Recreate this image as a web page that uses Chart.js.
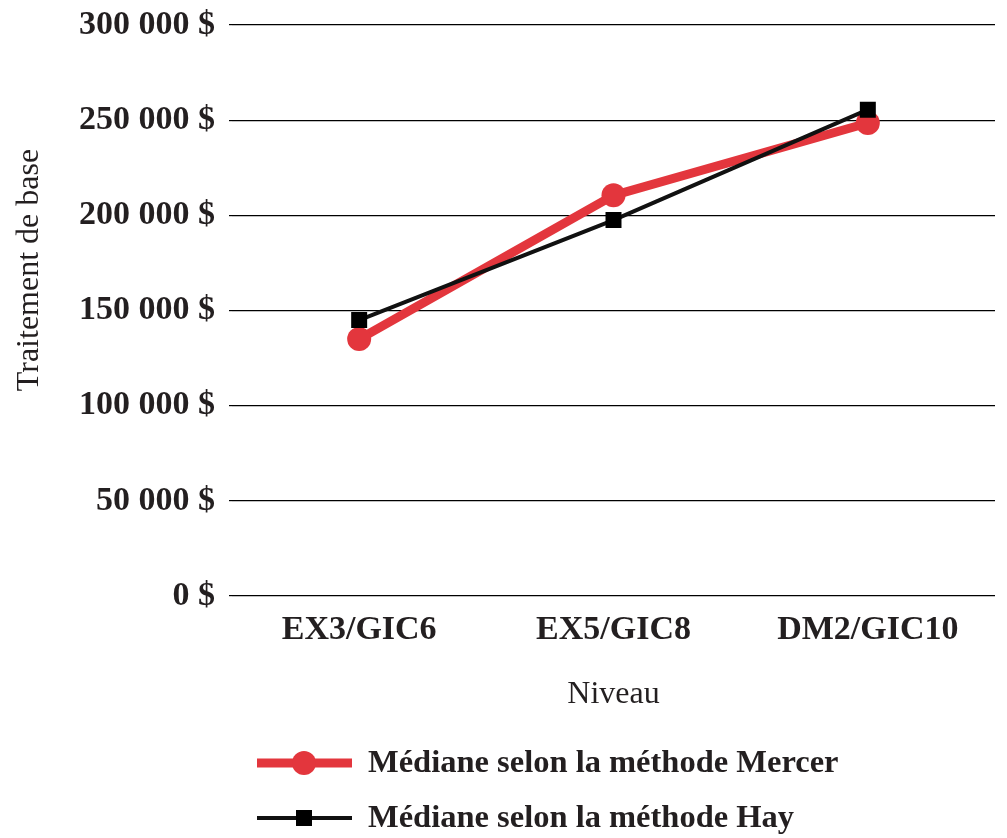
<!DOCTYPE html>
<html lang="fr">
<head>
<meta charset="utf-8">
<title>Traitement de base par niveau</title>
<script src="https://cdn.jsdelivr.net/npm/chart.js@4/dist/chart.umd.min.js"></script>
<style>
  html, body { margin: 0; padding: 0; background: #fff; }
  #wrap { width: 1007px; height: 838px; position: relative; }
</style>
</head>
<body>
<div id="wrap"><canvas id="chart" width="1007" height="838"></canvas></div>
<script>
// Niveaux et médianes du traitement de base
const categories = ['EX3/GIC6', 'EX5/GIC8', 'DM2/GIC10'];
const mercerValues = [135000, 210500, 248500];
const hayValues = [145000, 197500, 255500];
const yTickValues = [0, 50000, 100000, 150000, 200000, 250000, 300000];
const seriesNames = ['Médiane selon la méthode Mercer', 'Médiane selon la méthode Hay'];
const yAxisTitle = 'Traitement de base';
const xAxisTitle = 'Niveau';

const RED = '#e3363d';
const BLACK = '#111111';
const TEXT = '#231f20';
const SERIF = '"Liberation Serif", "DejaVu Serif", serif';

function formatDollars(v) {
  return String(v).replace(/\B(?=(\d{3})+(?!\d))/g, '\u00a0') + '\u00a0$';
}

// Titre vertical de l'axe des montants
const yTitlePlugin = {
  id: 'yTitle',
  afterDraw(chart) {
    const ctx = chart.ctx;
    ctx.save();
    ctx.translate(30, 270);
    ctx.rotate(-Math.PI / 2);
    ctx.fillStyle = TEXT;
    ctx.font = '32px ' + SERIF;
    ctx.textAlign = 'center';
    ctx.textBaseline = 'middle';
    ctx.fillText(yAxisTitle, 0, 0);
    ctx.restore();
  }
};

// Légende : trait + marqueur, empilée sous le titre de l'axe
const lineLegend = {
  id: 'lineLegend',
  afterDraw(chart) {
    const ctx = chart.ctx;
    const rows = [
      { ds: chart.data.datasets[0], y: 763 },
      { ds: chart.data.datasets[1], y: 818 }
    ];
    ctx.save();
    rows.forEach(({ ds, y }) => {
      const x0 = 257, x1 = 352, xm = 304;
      ctx.strokeStyle = ds.borderColor;
      ctx.lineWidth = ds.borderWidth;
      ctx.lineCap = 'butt';
      ctx.beginPath();
      ctx.moveTo(x0, y);
      ctx.lineTo(x1, y);
      ctx.stroke();
      ctx.fillStyle = ds.pointBackgroundColor;
      if (ds.pointStyle === 'circle') {
        ctx.beginPath();
        ctx.arc(xm, y, ds.pointRadius, 0, Math.PI * 2);
        ctx.fill();
      } else {
        const s = ds.pointRadius * Math.SQRT1_2;
        ctx.fillRect(xm - s, y - s, 2 * s, 2 * s);
      }
      ctx.fillStyle = TEXT;
      ctx.font = 'bold 32.5px ' + SERIF;
      ctx.textAlign = 'left';
      ctx.textBaseline = 'middle';
      ctx.fillText(ds.label, 368, y + 1);
    });
    ctx.restore();
  }
};

new Chart(document.getElementById('chart'), {
  type: 'line',
  data: {
    labels: categories,
    datasets: [
      {
        label: seriesNames[0],
        data: mercerValues,
        borderColor: RED,
        backgroundColor: RED,
        pointBackgroundColor: RED,
        pointBorderColor: RED,
        borderWidth: 9,
        pointStyle: 'circle',
        pointRadius: 12,
        pointHoverRadius: 12,
        pointBorderWidth: 0,
        tension: 0,
        order: 1
      },
      {
        label: seriesNames[1],
        data: hayValues,
        borderColor: BLACK,
        backgroundColor: '#000',
        pointBackgroundColor: '#000',
        pointBorderColor: '#000',
        borderWidth: 4,
        pointStyle: 'rect',
        pointRadius: 11.3,
        pointHoverRadius: 11.3,
        pointBorderWidth: 0,
        tension: 0,
        order: 0
      }
    ]
  },
  options: {
    responsive: false,
    animation: false,
    events: [],
    layout: { padding: { top: 25, right: 6, bottom: 119, left: 0 } },
    plugins: {
      legend: { display: false },
      tooltip: { enabled: false }
    },
    scales: {
      x: {
        offset: true,
        grid: { display: false },
        border: { display: false },
        ticks: {
          color: TEXT,
          font: { family: SERIF, size: 34, weight: 'bold' },
          padding: 6
        },
        title: {
          display: true,
          text: xAxisTitle,
          color: TEXT,
          font: { family: SERIF, size: 32, weight: 'normal' },
          padding: { top: 0, bottom: 5 }
        },
        afterFit(scale) {
          scale.height = 123;
          scale.paddingLeft = 0;
          scale.paddingRight = 0;
        }
      },
      y: {
        min: 0,
        max: 300000,
        afterBuildTicks(scale) { scale.ticks = yTickValues.map(v => ({ value: v })); },
        grid: { color: '#000', lineWidth: 1.2, drawTicks: true, tickLength: 3 },
        border: { display: false },
        ticks: {
          color: TEXT,
          font: { family: SERIF, size: 34, weight: 'bold' },
          padding: 14,
          callback: v => formatDollars(v)
        },
        afterFit(scale) {
          scale.width = 232;
          scale.paddingTop = 0;
          scale.paddingBottom = 0;
        }
      }
    }
  },
  plugins: [yTitlePlugin, lineLegend]
});
</script>
</body>
</html>
